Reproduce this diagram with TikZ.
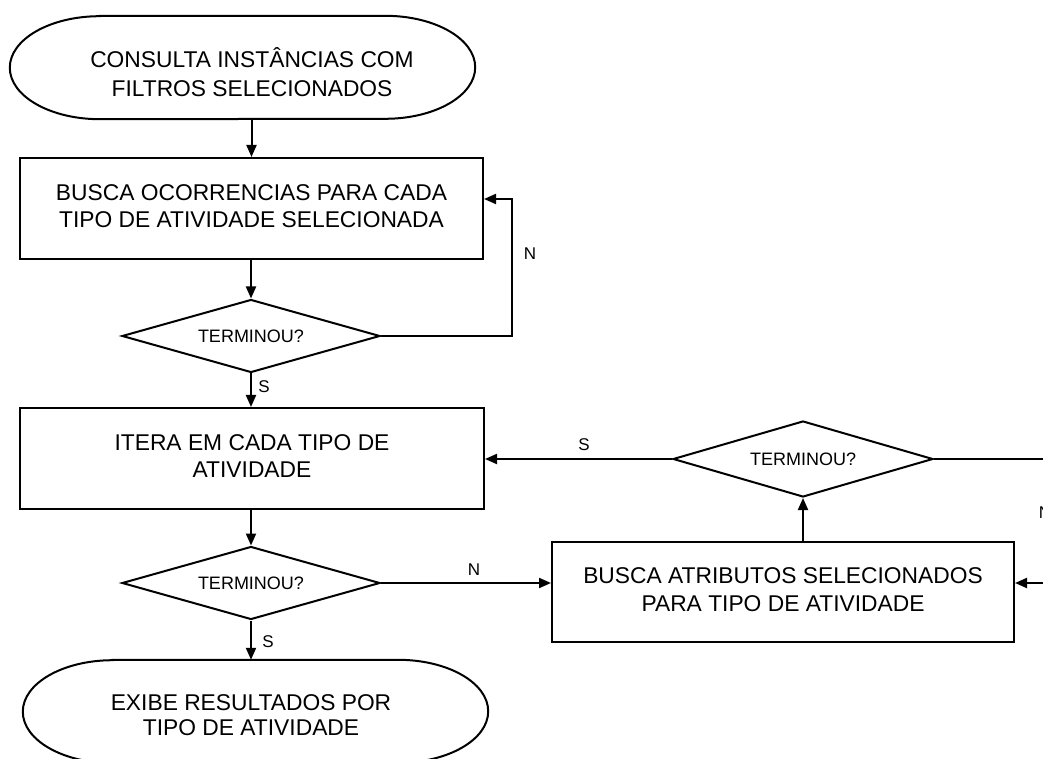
\documentclass[tikz,border=0pt]{standalone}
\usepackage{fontspec}
\setmainfont{Liberation Sans}
\usetikzlibrary{arrows.meta,shapes.geometric}
% two centred lines, moved down by #1
\newcommand{\twolines}[3]{\raisebox{#1}{\begin{tabular}{@{}c@{}}#2\\#3\end{tabular}}}
\begin{document}
\begin{tikzpicture}[x=1pt,y=1pt,
  line/.style={line width=2pt,draw=black},
  arr/.style={line,-{Triangle[length=12pt,width=10pt]}},
  procbox/.style={draw,line width=2pt,minimum width=463pt,minimum height=101pt,
    inner sep=0pt,align=center,font=\fontsize{22.8}{27.5}\selectfont},
  decision/.style={diamond,draw,line width=2pt,aspect=3.5,minimum width=258pt,
    minimum height=73pt,inner sep=0pt,font=\fontsize{18}{20}\selectfont},
  termframe/.style={draw=none,minimum width=465pt,minimum height=103pt,inner sep=0pt},
  termtext/.style={align=center,inner sep=0pt,font=\fontsize{22.8}{28.5}\selectfont},
  lbl/.style={inner sep=0pt,font=\fontsize{17}{20}\selectfont}]
\useasboundingbox (0,0) rectangle (1043,758);
\clip (0,0) rectangle (1043,758);

% start terminator
\node[termframe] (t1) at (242.5,690.5) {};
\draw[line] ([xshift=90pt]t1.north west) -- ([xshift=-90pt]t1.north east)
  arc[start angle=90,end angle=-90,x radius=90pt,y radius=51.5pt]
  -- ([xshift=90pt]t1.south west)
  arc[start angle=270,end angle=90,x radius=90pt,y radius=51.5pt] -- cycle;
\node[termtext] (t1txt) at (252,686) {CONSULTA INSTÂNCIAS COM\\FILTROS SELECIONADOS};

% process steps
\node[procbox] (b1) at (251.5,549.5) {\twolines{-2pt}{BUSCA OCORRENCIAS PARA CADA}{TIPO DE ATIVIDADE SELECIONADA}};
\node[decision] (d1) at (251,422) {TERMINOU?};
\node[procbox,minimum width=464pt] (b2) at (252,299.5) {\twolines{-5pt}{ITERA EM CADA TIPO DE}{ATIVIDADE}};
\node[decision] (d2) at (251,175) {TERMINOU?};
\node[procbox,minimum width=462pt,minimum height=100pt] (b3) at (783,166) {\twolines{-4pt}{BUSCA ATRIBUTOS SELECIONADOS}{PARA TIPO DE ATIVIDADE}};
\node[decision,minimum width=260pt,minimum height=76pt] (d3) at (803,299) {TERMINOU?};

% end terminator
\node[termframe] (t2) at (255.5,46.5) {};
\draw[line] ([xshift=90pt]t2.north west) -- ([xshift=-90pt]t2.north east)
  arc[start angle=90,end angle=-90,x radius=90pt,y radius=51.5pt]
  -- ([xshift=90pt]t2.south west)
  arc[start angle=270,end angle=90,x radius=90pt,y radius=51.5pt] -- cycle;
\node[termtext,font=\fontsize{22.8}{25}\selectfont] (t2txt) at (251,43) {EXIBE RESULTADOS POR\\TIPO DE ATIVIDADE};

% loop turning points
\coordinate (loopA) at (512,0);
\coordinate (loopB) at (1065,0);

% connectors
\draw[arr] (t1.south -| b1.north) -- (b1.north);
\draw[arr] (b1.south -| d1.north) -- (d1.north);
\draw[arr] (d1.south) -- (d1.south |- b2.north);
\draw[arr] (d1.east) -- (d1.east -| loopA) |- ([yshift=9.5pt]b1.east);
\draw[arr] (b2.south -| d2.north) -- (d2.north);
\draw[arr] (d2.south) -- (d2.south |- t2.north);
\draw[arr] (d2.east) -- (d2.east -| b3.west);
\draw[arr] (b3.north -| d3.south) -- (d3.south);
\draw[arr] (d3.west) -- (d3.west -| b2.east);
\draw[arr] (d3.east) -- (d3.east -| loopB) |- (d2.east -| b3.east);

% branch labels
\node[lbl] (s1) at (264,371) {S};
\node[lbl] (n1) at (530,504) {N};
\node[lbl] (s2) at (268,116) {S};
\node[lbl] (n2) at (474,188) {N};
\node[lbl] (s3) at (584,313) {S};
\node[lbl] (n3) at (1045,245) {N};
\end{tikzpicture}
\end{document}
